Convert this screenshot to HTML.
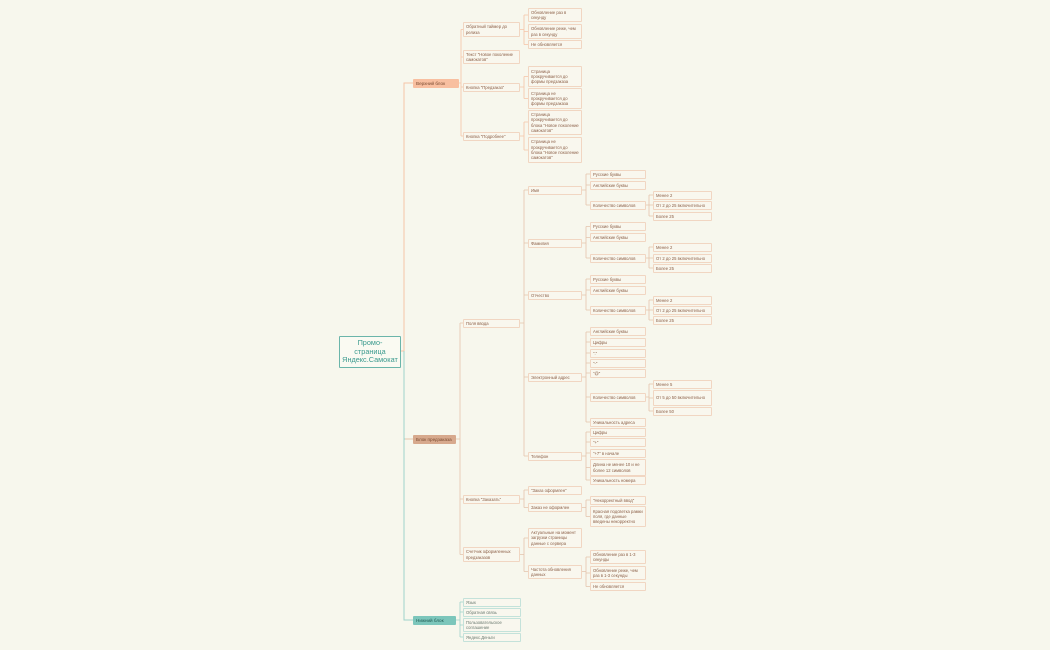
<!DOCTYPE html>
<html><head><meta charset="utf-8"><style>
body{margin:0;width:1050px;height:650px;background:#f7f7ed;position:relative;overflow:hidden;font-family:"Liberation Sans",sans-serif}
.b{position:absolute;box-sizing:border-box;border:1px solid #f1d6c2;background:#f9f7ee;color:#8c6048;font-size:4.2px;line-height:5.3px;padding:1px 2px;display:flex;align-items:center;border-radius:1px}
.g{border-color:#c4e2da;color:#6a7a70}
.l1{color:#7a4a30;border:none;justify-content:flex-start;padding-left:3px;font-size:4.6px;white-space:nowrap}
svg{position:absolute;left:0;top:0}
</style></head><body>
<svg id="s" width="1050" height="650"></svg>
<div class="b" style="left:339px;top:336px;width:62px;height:32px;border:1px solid #6bb5aa;color:#3a9a8e;font-size:7.3px;line-height:8.8px;justify-content:center;text-align:center;background:#fafaf2">Промо-<br>страница<br>Яндекс.Самокат</div>
<div class="b l1" style="left:413px;top:79px;width:46px;height:9px;background:#f8bfa0">Верхний блок</div>
<div class="b l1" style="left:413px;top:435px;width:43px;height:9px;background:#d7a98d">Блок предзаказа</div>
<div class="b l1" style="left:413px;top:616px;width:43px;height:9px;background:#7cc6bb;color:#1f5a52">Нижний блок</div>

<div class="b" style="left:463px;top:22px;width:57px;height:15px">Обратный таймер до релиза</div>
<div class="b" style="left:463px;top:50px;width:57px;height:14px">Текст "Новое поколение самокатов"</div>
<div class="b" style="left:463px;top:83px;width:57px;height:9px">Кнопка "Предзаказ"</div>
<div class="b" style="left:463px;top:132px;width:57px;height:9px">Кнопка "Подробнее"</div>
<div class="b" style="left:528px;top:8px;width:54px;height:14px">Обновление раз в секунду</div>
<div class="b" style="left:528px;top:24px;width:54px;height:15px">Обновление реже, чем раз в секунду</div>
<div class="b" style="left:528px;top:40px;width:54px;height:9px">Не обновляется</div>
<div class="b" style="left:528px;top:66px;width:54px;height:21px">Страница прокручивается до формы предзаказа</div>
<div class="b" style="left:528px;top:88px;width:54px;height:21px">Страница не прокручивается до формы предзаказа</div>
<div class="b" style="left:528px;top:110px;width:54px;height:25px">Страница прокручивается до блока "Новое поколение самокатов"</div>
<div class="b" style="left:528px;top:137px;width:54px;height:26px">Страница не прокручивается до блока "Новое поколение самокатов"</div>

<div class="b" style="left:463px;top:319px;width:57px;height:9px">Поля ввода</div>
<div class="b" style="left:463px;top:495px;width:57px;height:9px">Кнопка "Заказать"</div>
<div class="b" style="left:463px;top:547px;width:57px;height:15px">Счетчик оформленных предзаказов</div>

<div class="b" style="left:528px;top:186px;width:54px;height:9px">Имя</div>
<div class="b" style="left:528px;top:239px;width:54px;height:9px">Фамилия</div>
<div class="b" style="left:528px;top:291px;width:54px;height:9px">Отчество</div>
<div class="b" style="left:528px;top:373px;width:54px;height:9px">Электронный адрес</div>
<div class="b" style="left:528px;top:452px;width:54px;height:9px">Телефон</div>
<div class="b" style="left:528px;top:486px;width:54px;height:9px">"Заказ оформлен"</div>
<div class="b" style="left:528px;top:503px;width:54px;height:9px">Заказ не оформлен</div>
<div class="b" style="left:528px;top:528px;width:54px;height:20px">Актуальные на момент загрузки страницы данные с сервера</div>
<div class="b" style="left:528px;top:565px;width:54px;height:14px">Частота обновления данных</div>

<div class="b" style="left:590px;top:170px;width:56px;height:9px">Русские буквы</div>
<div class="b" style="left:590px;top:181px;width:56px;height:9px">Английские буквы</div>
<div class="b" style="left:590px;top:201px;width:56px;height:9px">Количество символов</div>
<div class="b" style="left:590px;top:222px;width:56px;height:9px">Русские буквы</div>
<div class="b" style="left:590px;top:233px;width:56px;height:9px">Английские буквы</div>
<div class="b" style="left:590px;top:254px;width:56px;height:9px">Количество символов</div>
<div class="b" style="left:590px;top:275px;width:56px;height:9px">Русские буквы</div>
<div class="b" style="left:590px;top:286px;width:56px;height:9px">Английские буквы</div>
<div class="b" style="left:590px;top:306px;width:56px;height:9px">Количество символов</div>
<div class="b" style="left:590px;top:327px;width:56px;height:9px">Английские буквы</div>
<div class="b" style="left:590px;top:338px;width:56px;height:9px">Цифры</div>
<div class="b" style="left:590px;top:349px;width:56px;height:9px">"."</div>
<div class="b" style="left:590px;top:359px;width:56px;height:9px">"-"</div>
<div class="b" style="left:590px;top:369px;width:56px;height:9px">"@"</div>
<div class="b" style="left:590px;top:393px;width:56px;height:9px">Количество символов</div>
<div class="b" style="left:590px;top:418px;width:56px;height:9px">Уникальность адреса</div>
<div class="b" style="left:590px;top:428px;width:56px;height:9px">Цифры</div>
<div class="b" style="left:590px;top:438px;width:56px;height:9px">"+"</div>
<div class="b" style="left:590px;top:449px;width:56px;height:9px">"+7" в начале</div>
<div class="b" style="left:590px;top:459px;width:56px;height:17px">Длина не менее 10 и не более 12 символов</div>
<div class="b" style="left:590px;top:476px;width:56px;height:9px">Уникальность номера</div>
<div class="b" style="left:590px;top:496px;width:56px;height:9px">"Некорректный ввод"</div>
<div class="b" style="left:590px;top:506px;width:56px;height:21px">Красная подсветка рамки поля, где данные введены некорректно</div>
<div class="b" style="left:590px;top:550px;width:56px;height:14px">Обновление раз в 1-3 секунды</div>
<div class="b" style="left:590px;top:566px;width:56px;height:14px">Обновление реже, чем раз в 1-3 секунды</div>
<div class="b" style="left:590px;top:582px;width:56px;height:9px">Не обновляется</div>

<div class="b" style="left:653px;top:191px;width:59px;height:9px">Менее 2</div>
<div class="b" style="left:653px;top:201px;width:59px;height:9px;white-space:nowrap">От 2 до 25 включительно</div>
<div class="b" style="left:653px;top:212px;width:59px;height:9px">Более 25</div>
<div class="b" style="left:653px;top:243px;width:59px;height:9px">Менее 2</div>
<div class="b" style="left:653px;top:254px;width:59px;height:9px;white-space:nowrap">От 2 до 25 включительно</div>
<div class="b" style="left:653px;top:264px;width:59px;height:9px">Более 25</div>
<div class="b" style="left:653px;top:296px;width:59px;height:9px">Менее 2</div>
<div class="b" style="left:653px;top:306px;width:59px;height:9px;white-space:nowrap">От 2 до 25 включительно</div>
<div class="b" style="left:653px;top:316px;width:59px;height:9px">Более 25</div>
<div class="b" style="left:653px;top:380px;width:59px;height:9px">Менее 5</div>
<div class="b" style="left:653px;top:390px;width:59px;height:16px">От 5 до 50 включительно</div>
<div class="b" style="left:653px;top:407px;width:59px;height:9px">Более 50</div>

<div class="b g" style="left:463px;top:598px;width:58px;height:9px">Язык</div>
<div class="b g" style="left:463px;top:608px;width:58px;height:9px">Обратная связь</div>
<div class="b g" style="left:463px;top:618px;width:58px;height:14px">Пользовательское соглашение</div>
<div class="b g" style="left:463px;top:633px;width:58px;height:9px">Яндекс.Деньги</div>
<script>
var s=document.getElementById('s');
function br(pr,py,x,cl,ys,c){var a=Math.min.apply(0,ys.concat([py])),b=Math.max.apply(0,ys.concat([py]));
var p='M'+pr+' '+py+'H'+x+'M'+x+' '+a+'V'+b;ys.forEach(function(y){p+='M'+x+' '+y+'H'+cl});
s.innerHTML+='<path d="'+p+'" stroke="'+c+'" stroke-width="0.8" fill="none"/>';}
var S='#f6c4a6',B='#e4c4ac',T='#9fd3ca';
s.innerHTML+='<path d="M401 351H404V97M404 97V83H413" stroke="'+S+'" stroke-width="1" fill="none"/><path d="M404 351V620H413M404 439H413" stroke="'+T+'" stroke-width="1" fill="none"/><path d="M405 439H413" stroke="'+B+'" stroke-width="1"/>';
br(459,83,461,463,[29.5,57,87,136],S);
br(520,29.5,524,528,[15,31.5,44.5],S);
br(520,87,524,528,[76.5,98.5],S);
br(520,136,524,528,[122,150],S);
br(456,439,460,463,[323,499,554.5],B);
br(520,323,524,528,[190,243,295,377,456],B);
br(582,190,586,590,[174,185,205],B);
br(582,243,586,590,[226.5,237.5,258],B);
br(582,295,586,590,[279,290,310],B);
br(582,377,586,590,[332,342,353,363,373,397,422],B);
br(582,456,586,590,[432,442,453,467.5,480],B);
br(646,205,649,653,[195,205,216],B);
br(646,258,649,653,[247,258,268],B);
br(646,310,649,653,[300,310,320],B);
br(646,397,649,653,[384,398,411],B);
br(520,499,524,528,[490,507.5],B);
br(582,507.5,586,590,[500,516.5],B);
br(520,554.5,524,528,[538,571.5],B);
br(582,571.5,586,590,[557,573,586.5],B);
br(456,620,460,463,[602,612,625,637],T);
</script>
</body></html>
